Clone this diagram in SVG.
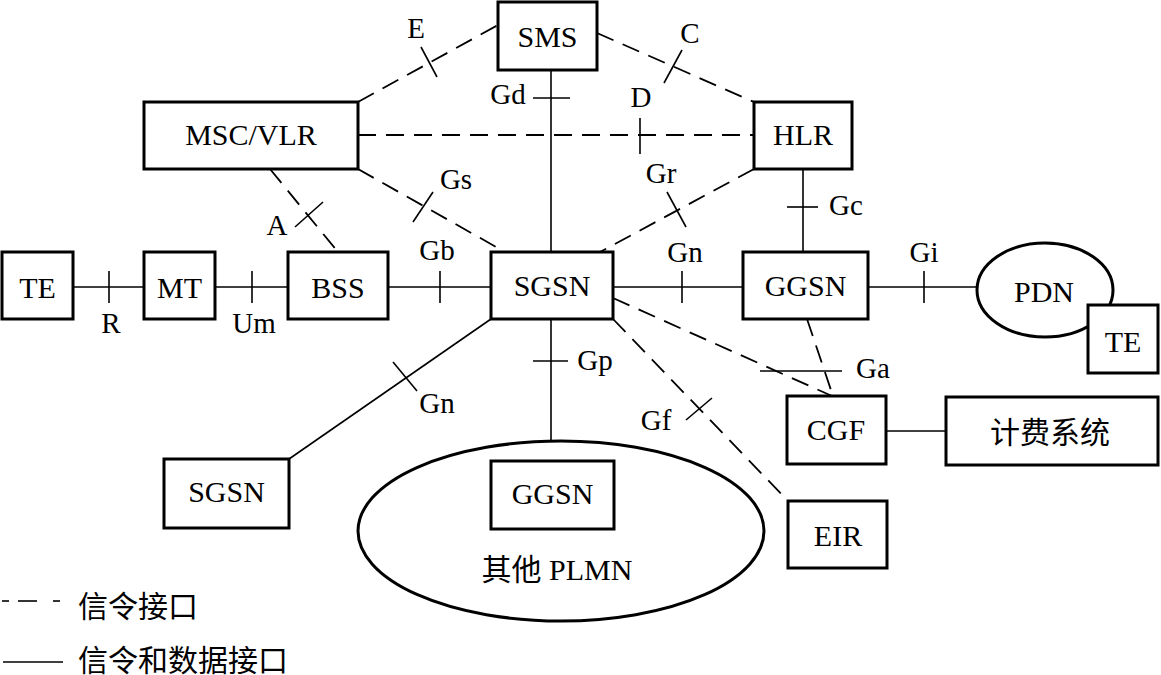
<svg xmlns="http://www.w3.org/2000/svg" width="1161" height="675" viewBox="0 0 1161 675">
<style>
.box{fill:#fff;stroke:#000;stroke-width:3}
.ell{fill:none;stroke:#000;stroke-width:3}
.s{stroke:#000;stroke-width:1.6;fill:none}
.d{stroke:#000;stroke-width:1.8;fill:none;stroke-dasharray:18 10}
.t{stroke:#000;stroke-width:1.6}
text{font-family:"Liberation Serif","Noto Sans CJK SC",serif;fill:#000}
.n{font-size:30px;text-anchor:middle}
.l{font-size:29px;text-anchor:middle}
.cn{font-family:"Liberation Serif","Noto Sans CJK SC",serif;font-size:30px}
</style>
<rect width="1161" height="675" fill="#fff"/>
<g id="connectors">
<line class="d" x1="358" y1="102" x2="498" y2="25"/>
<line class="d" x1="597" y1="33" x2="754" y2="102"/>
<line class="d" x1="358" y1="135" x2="754" y2="135"/>
<line class="s" x1="551" y1="70" x2="551" y2="252"/>
<line class="d" x1="358" y1="169" x2="505" y2="252"/>
<line class="d" x1="754" y1="169" x2="600" y2="252"/>
<line class="d" x1="270" y1="169" x2="338" y2="252"/>
<line class="s" x1="803" y1="169" x2="803" y2="252"/>
<line class="s" x1="73" y1="287" x2="144" y2="287"/>
<line class="s" x1="215" y1="287" x2="288" y2="287"/>
<line class="s" x1="388" y1="287" x2="491" y2="287"/>
<line class="s" x1="613" y1="287" x2="743" y2="287"/>
<line class="s" x1="868" y1="287" x2="977" y2="287"/>
<line class="d" x1="613" y1="298" x2="832" y2="396"/>
<line class="d" x1="807" y1="319" x2="833" y2="396"/>
<line class="d" x1="613" y1="319" x2="788" y2="501"/>
<line class="s" x1="491" y1="319" x2="289" y2="459"/>
<line class="s" x1="551" y1="319" x2="551" y2="441"/>
<line class="s" x1="886" y1="431" x2="946" y2="431"/>
<!-- ticks -->
<line class="t" x1="421" y1="47" x2="437" y2="77"/>
<line class="t" x1="682" y1="50" x2="664" y2="83"/>
<line class="t" x1="640" y1="118" x2="640" y2="154"/>
<line class="t" x1="533" y1="98" x2="570" y2="98"/>
<line class="t" x1="433" y1="192" x2="413" y2="222"/>
<line class="t" x1="667" y1="192" x2="686" y2="227"/>
<line class="t" x1="323" y1="202" x2="295" y2="227"/>
<line class="t" x1="787" y1="207" x2="818" y2="207"/>
<line class="t" x1="109" y1="271" x2="109" y2="303"/>
<line class="t" x1="252" y1="271" x2="252" y2="303"/>
<line class="t" x1="440" y1="271" x2="440" y2="303"/>
<line class="t" x1="682" y1="271" x2="682" y2="303"/>
<line class="t" x1="924" y1="271" x2="924" y2="303"/>
<line class="t" x1="760" y1="371" x2="842" y2="371"/>
<line class="t" x1="712" y1="398" x2="686" y2="420"/>
<line class="t" x1="393" y1="362" x2="417" y2="391"/>
<line class="t" x1="533" y1="361" x2="568" y2="361"/>
<!-- interface labels -->
<text class="l" x="416" y="38">E</text>
<text class="l" x="690" y="43">C</text>
<text class="l" x="508" y="104">Gd</text>
<text class="l" x="641" y="107">D</text>
<text class="l" x="661" y="183">Gr</text>
<text class="l" x="456" y="189">Gs</text>
<text class="l" x="277" y="235">A</text>
<text class="l" x="846" y="215">Gc</text>
<text class="l" x="437" y="260">Gb</text>
<text class="l" x="685" y="262">Gn</text>
<text class="l" x="924" y="262">Gi</text>
<text class="l" x="111" y="333">R</text>
<text class="l" x="254" y="333">Um</text>
<text class="l" x="873" y="378">Ga</text>
<text class="l" x="656" y="430">Gf</text>
<text class="l" x="437" y="413">Gn</text>
<text class="l" x="595" y="370">Gp</text>
</g>
<g id="SMS"><rect class="box" x="498" y="2" width="99" height="68"/><text class="n" x="547.5" y="47">SMS</text></g>
<g id="MSCVLR"><rect class="box" x="144" y="102" width="214" height="67"/><text class="n" x="251" y="145">MSC/VLR</text></g>
<g id="HLR"><rect class="box" x="754" y="102" width="98" height="67"/><text class="n" x="803" y="145">HLR</text></g>
<g id="TE1"><rect class="box" x="2" y="252" width="71" height="67"/><text class="n" x="37.5" y="298">TE</text></g>
<g id="MT"><rect class="box" x="144" y="252" width="71" height="67"/><text class="n" x="179.5" y="298">MT</text></g>
<g id="BSS"><rect class="box" x="288" y="252" width="100" height="67"/><text class="n" x="338" y="298">BSS</text></g>
<g id="SGSN"><rect class="box" x="491" y="252" width="122" height="67"/><text class="n" x="552" y="296">SGSN</text></g>
<g id="GGSN"><rect class="box" x="743" y="252" width="125" height="67"/><text class="n" x="805.5" y="296">GGSN</text></g>
<g id="PDN"><ellipse class="ell" cx="1045" cy="290" rx="68" ry="47"/><text class="n" x="1044" y="302">PDN</text></g>
<g id="TE2"><rect class="box" x="1088" y="305" width="70" height="68"/><text class="n" x="1123" y="352">TE</text></g>
<g id="CGF"><rect class="box" x="787" y="396" width="99" height="68"/><text class="n" x="836" y="440">CGF</text></g>
<g id="Billing"><rect class="box" x="946" y="397" width="212" height="68"/><text class="n cn" x="1050" y="443">计费系统</text></g>
<g id="EIR"><rect class="box" x="788" y="501" width="99" height="67"/><text class="n" x="838" y="546">EIR</text></g>
<g id="SGSN2"><rect class="box" x="164" y="459" width="125" height="69"/><text class="n" x="226.5" y="502">SGSN</text></g>
<g id="PLMN"><ellipse class="ell" cx="561" cy="531" rx="203" ry="90"/><rect class="box" x="491" y="461" width="123" height="68"/><text class="n" x="552.5" y="504">GGSN</text><text class="n cn" x="557" y="580">其他 PLMN</text></g>
<g id="legend">
<line class="t" x1="2" y1="601" x2="9" y2="601"/>
<line class="t" x1="18" y1="601" x2="37" y2="601"/>
<line class="t" x1="53" y1="601" x2="60" y2="601"/>
<text class="cn" x="78" y="617">信令接口</text>
<line class="t" x1="3" y1="662" x2="63" y2="662"/>
<text class="cn" x="78" y="671">信令和数据接口</text>
</g>
</svg>
